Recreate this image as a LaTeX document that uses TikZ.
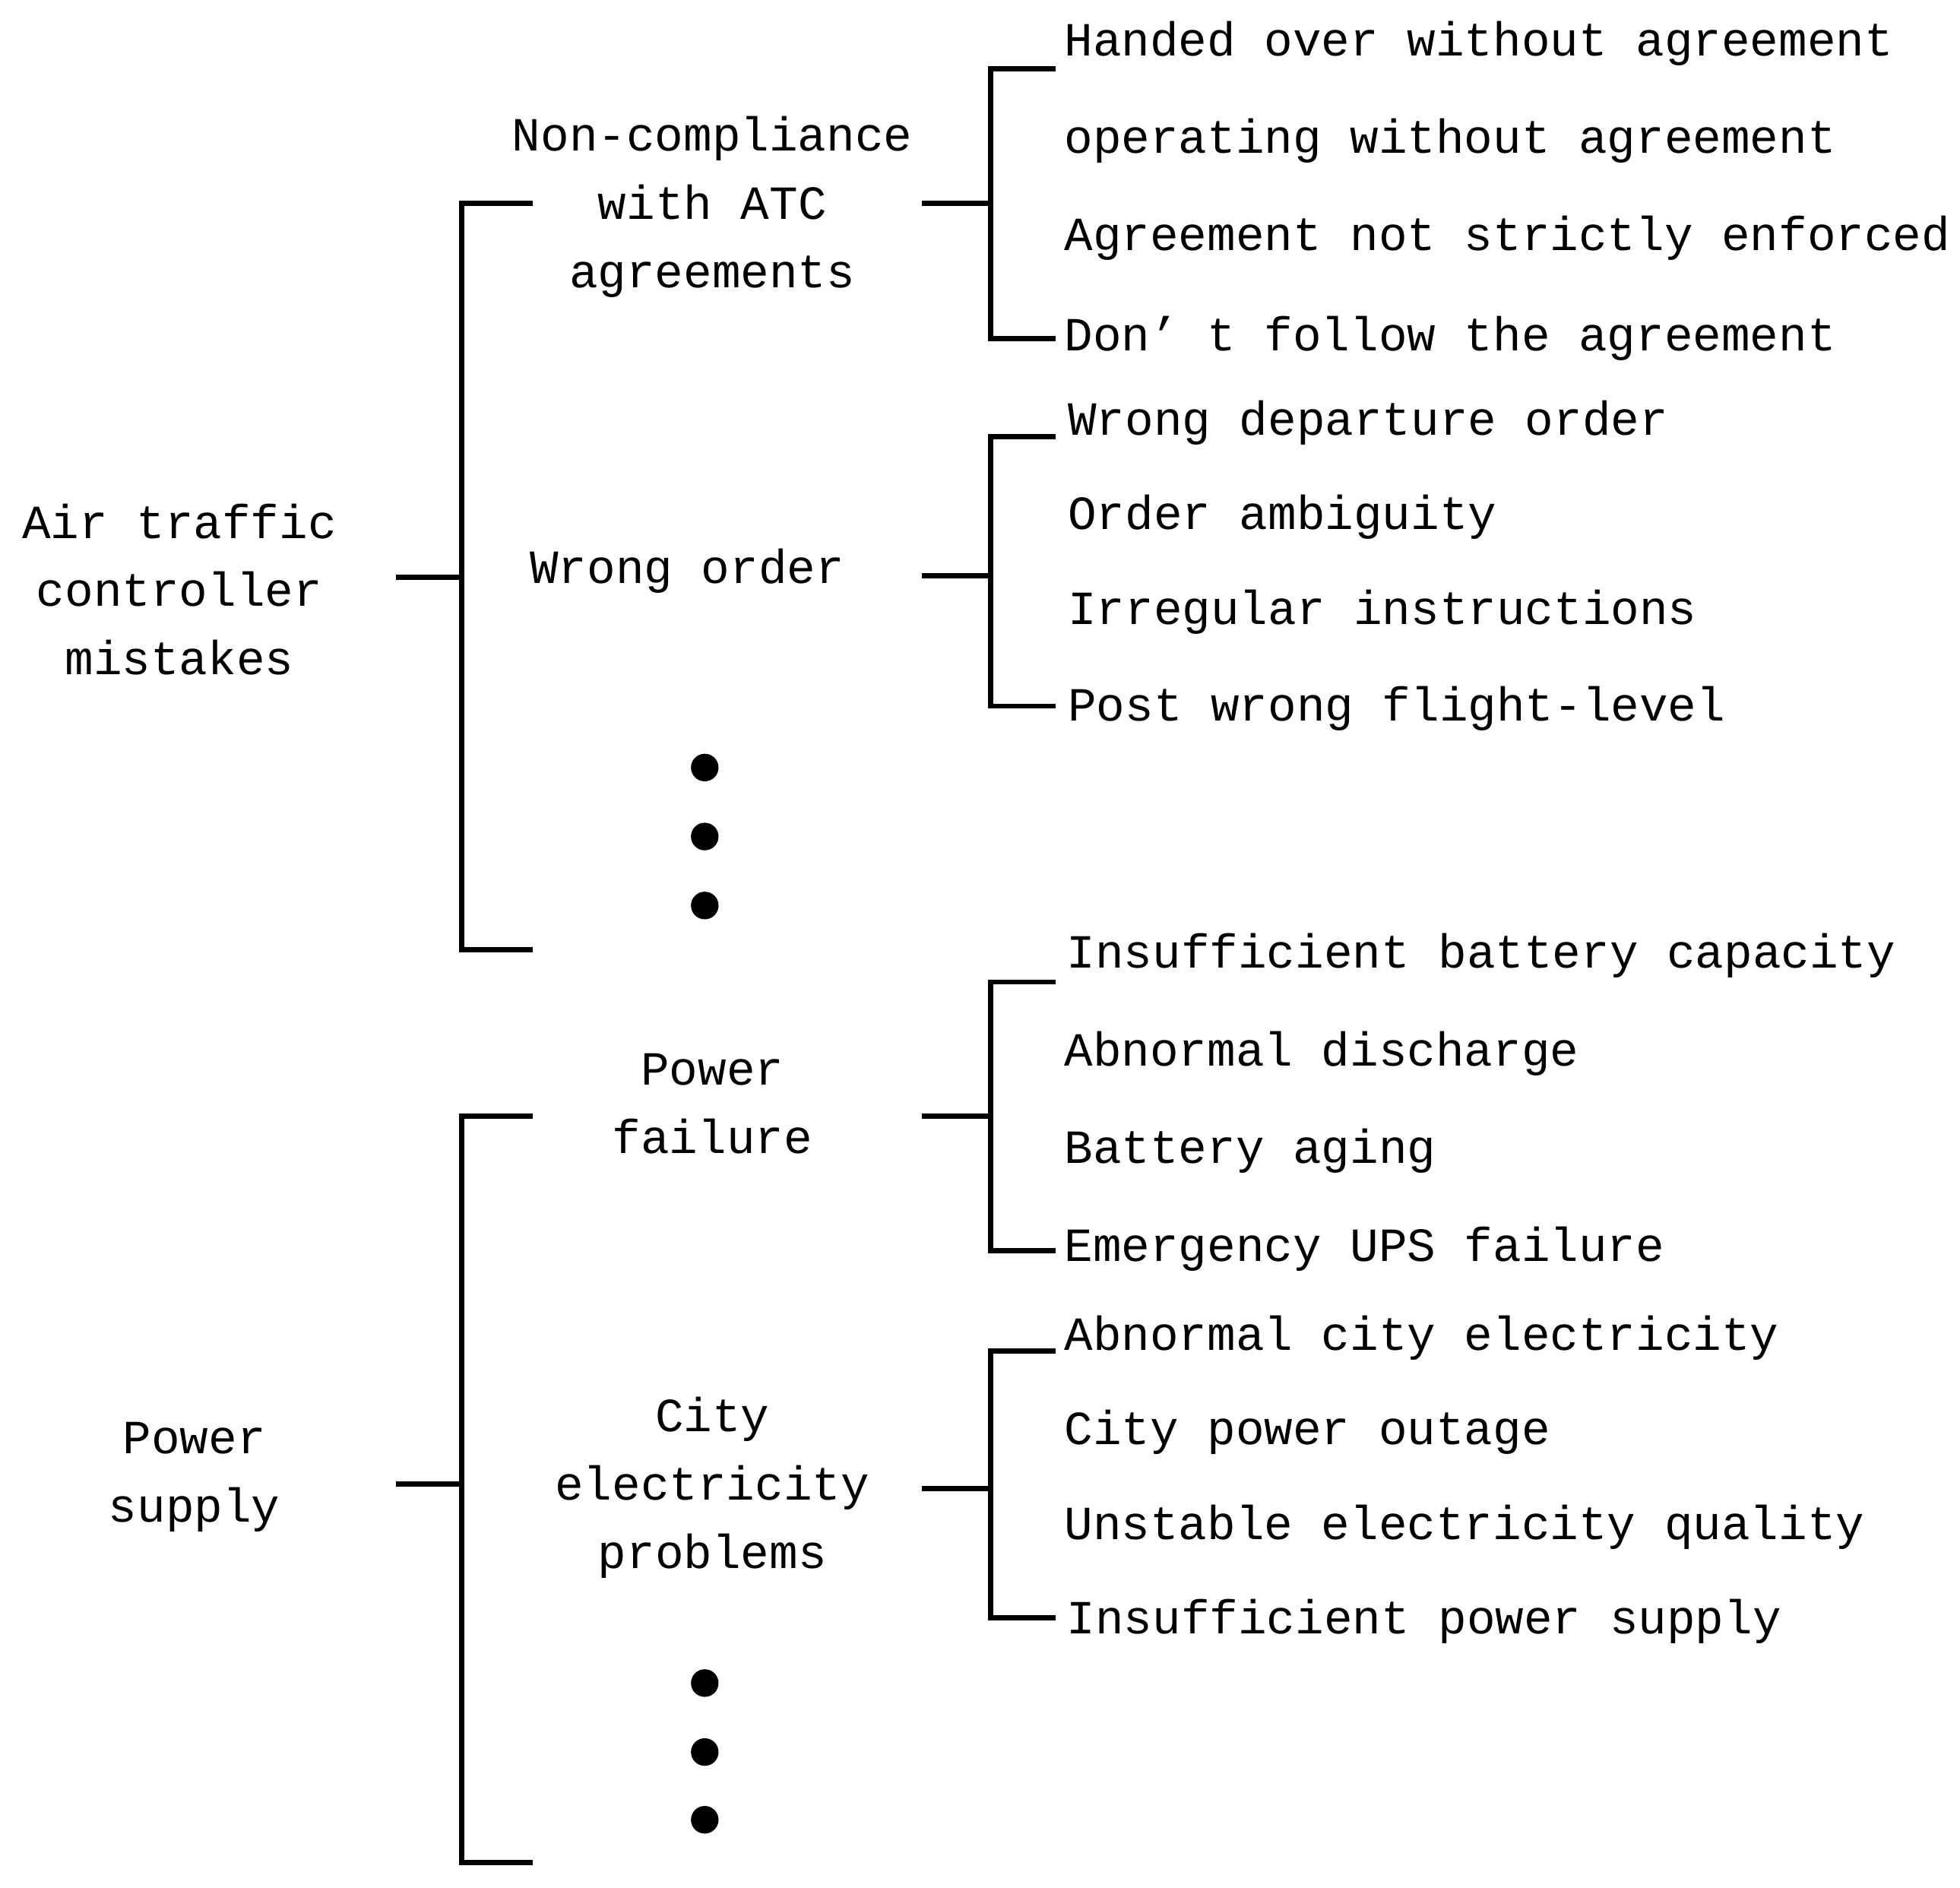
\documentclass[tikz,border=0pt]{standalone}
\usepackage{fontspec}
\setmainfont{Liberation Mono}
\begin{document}
\begin{tikzpicture}[x=0.01cm,y=-0.01cm,
  br/.style={line width=1.2pt},
  leaf/.style={anchor=west,inner sep=0pt,font=\fontsize{10.8}{12}\selectfont},
  mid/.style={align=center,inner sep=0pt,font=\fontsize{10.8}{15.5}\selectfont},
  dot/.style={circle,fill=black,inner sep=0pt,minimum size=0.22cm}]
\useasboundingbox (0,0) rectangle (1563,1505);
% roots
\node[mid] (r1) at (143,470) {Air traffic\\controller\\mistakes};
\node[mid] (r2) at (155,1178) {Power\\supply};
\coordinate (s1) at (316,460); \coordinate (s2) at (316,1183);
\draw[br] (s1) -- (368,460);
\draw[br] (425,162) -- (368,162) -- (368,757) -- (425,757);
\draw[br] (s2) -- (368,1183);
\draw[br] (425,890) -- (368,890) -- (368,1485) -- (425,1485);
% mid
\node[mid] (m1) at (568,165) {Non-compliance\\with ATC\\agreements};
\node[mid] (m2) at (548,455) {Wrong order};
\node[mid] (m3) at (568,880) {Power\\failure};
\node[mid] (m4) at (568,1186) {City\\electricity\\problems};
\foreach \y [count=\i] in {612,667,722} \node[dot] (da\i) at (562,\y) {};
\foreach \y [count=\i] in {1342,1397,1451} \node[dot] (db\i) at (562,\y) {};
% leaf groups
\foreach \g/\s/\t/\b in {1/162/55/270, 2/459/348/563, 3/890/783/997, 4/1187/1077/1290}{
  \coordinate (g\g) at (735,\s);
  \draw[br] (g\g) -- (790,\s);
  \draw[br] (842,\t) -- (790,\t) -- (790,\b) -- (842,\b);
}
\node[leaf] (l11) at (848,35) {Handed over without agreement};
\node[leaf] (l12) at (848,112) {operating without agreement};
\node[leaf] (l13) at (848,190) {Agreement not strictly enforced};
\node[leaf] (l14) at (848,270) {Don’ t follow the agreement};
\node[leaf] (l21) at (851,337) {Wrong departure order};
\node[leaf] (l22) at (851,412) {Order ambiguity};
\node[leaf] (l23) at (851,488) {Irregular instructions};
\node[leaf] (l24) at (851,565) {Post wrong flight-level};
\node[leaf] (l31) at (850,762) {Insufficient battery capacity};
\node[leaf] (l32) at (848,840) {Abnormal discharge};
\node[leaf] (l33) at (848,918) {Battery aging};
\node[leaf] (l34) at (848,996) {Emergency UPS failure};
\node[leaf] (l41) at (848,1067) {Abnormal city electricity};
\node[leaf] (l42) at (848,1142) {City power outage};
\node[leaf] (l43) at (848,1218) {Unstable electricity quality};
\node[leaf] (l44) at (850,1293) {Insufficient power supply};
\end{tikzpicture}
\end{document}
